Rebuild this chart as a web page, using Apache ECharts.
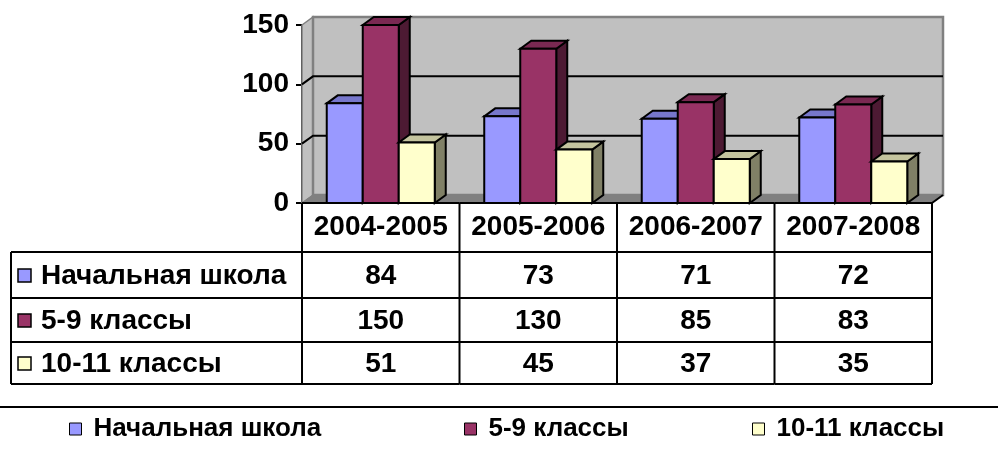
<!DOCTYPE html>
<html>
<head>
<meta charset="utf-8">
<script src="https://cdn.jsdelivr.net/npm/echarts@6/dist/echarts.min.js"></script>
<style>html,body{margin:0;padding:0;background:#fff}#c{width:998px;height:449px}</style>
</head>
<body>
<div id="c"></div>
<script>
const categories = ['2004-2005', '2005-2006', '2006-2007', '2007-2008'];
const seriesNames = ['Начальная школа', '5-9 классы', '10-11 классы'];
const primarySchool = [84, 73, 71, 72];
const grades5to9 = [150, 130, 85, 83];
const grades10to11 = [51, 45, 37, 35];
const yTicks = [0, 50, 100, 150];

const seriesValues = [primarySchool, grades5to9, grades10to11];
const palette = [
  { front: '#9999FF', top: '#7777CC', side: '#4C4C80' },
  { front: '#993366', top: '#7A2952', side: '#4D1A33' },
  { front: '#FFFFCC', top: '#C4C49E', side: '#808066' }
];
const DX = 11, DY = 8;
const FONT = '"Liberation Sans", Arial, sans-serif';

function barRender(si) {
  return function (params, api) {
    const cat = api.value(0), v = api.value(1);
    const base = api.coord([cat, 0]);
    const tp = api.coord([cat, v]);
    const band = api.size([1, 0])[0];
    const bw = band * 0.2286;
    const x0 = base[0] - 1.5 * bw + si * bw;
    const x1 = x0 + bw;
    const yb = base[1], yt = tp[1];
    const c = palette[si];
    const st = { stroke: '#000', lineWidth: 2, lineJoin: 'miter' };
    return {
      type: 'group',
      children: [
        { type: 'polygon', shape: { points: [[x1, yt], [x1 + DX, yt - DY], [x1 + DX, yb - DY], [x1, yb]] }, style: Object.assign({ fill: c.side }, st) },
        { type: 'polygon', shape: { points: [[x0, yt], [x0 + DX, yt - DY], [x1 + DX, yt - DY], [x1, yt]] }, style: Object.assign({ fill: c.top }, st) },
        { type: 'rect', shape: { x: x0, y: yt, width: bw, height: yb - yt }, style: Object.assign({ fill: c.front }, st) }
      ]
    };
  };
}

function wallRender(params, api) {
  const cs = params.coordSys;
  const L = cs.x, R = cs.x + cs.width;
  const y0 = api.coord([0, yTicks[0]])[1];
  const yMax = api.coord([0, yTicks[yTicks.length - 1]])[1];
  const ch = [];
  ch.push({ type: 'polygon', shape: { points: [[L, yMax], [L + DX, yMax - DY], [L + DX, y0 - DY], [L, y0]] }, style: { fill: '#C0C0C0', stroke: '#808080', lineWidth: 1.5 } });
  ch.push({ type: 'rect', shape: { x: L + DX, y: yMax - DY, width: R - L, height: y0 - yMax }, style: { fill: '#C0C0C0', stroke: '#808080', lineWidth: 2.5 } });
  ch.push({ type: 'polygon', shape: { points: [[L, y0], [L + DX, y0 - DY], [R + DX, y0 - DY], [R, y0]] }, style: { fill: '#808080', stroke: '#808080', lineWidth: 1 } });
  ch.push({ type: 'line', shape: { x1: R, y1: y0, x2: R + DX, y2: y0 - DY }, style: { stroke: '#000', lineWidth: 2 } });
  yTicks.forEach(function (t, i) {
    if (i === 0 || i === yTicks.length - 1) return;
    const y = api.coord([0, t])[1];
    ch.push({ type: 'polyline', shape: { points: [[L, y], [L + DX, y - DY], [R + DX, y - DY]] }, style: { stroke: '#000', lineWidth: 2, fill: null } });
  });
  return { type: 'group', children: ch };
}

const rowLines = [252, 298, 342, 384];
const headerMid = 227;
const TABLE_LEFT = 11;

function tableRender(params, api) {
  const idx = params.dataIndex;
  const base = api.coord([idx, 0]);
  const band = api.size([1, 0])[0];
  const cx = base[0], yTop = base[1];
  const left = cx - band / 2, right = cx + band / 2;
  const ls = { stroke: '#000', lineWidth: 2 };
  const txt = function (s, x, y, align) {
    return { type: 'text', style: { text: s, x: x, y: y, align: align || 'center', verticalAlign: 'middle', fontSize: 28, fontWeight: 'bold', fontFamily: FONT, fill: '#000' } };
  };
  const ch = [];
  ch.push({ type: 'line', shape: { x1: left, y1: yTop, x2: right, y2: yTop }, style: ls });
  ch.push({ type: 'line', shape: { x1: left, y1: yTop, x2: left, y2: rowLines[rowLines.length - 1] }, style: ls });
  if (idx === categories.length - 1) {
    ch.push({ type: 'line', shape: { x1: right, y1: yTop, x2: right, y2: rowLines[rowLines.length - 1] }, style: ls });
  }
  rowLines.forEach(function (y) {
    ch.push({ type: 'line', shape: { x1: left, y1: y, x2: right, y2: y }, style: ls });
  });
  ch.push(txt(categories[idx], cx, headerMid));
  seriesValues.forEach(function (arr, k) {
    ch.push(txt(String(arr[idx]), cx, (rowLines[k] + rowLines[k + 1]) / 2 + 1));
  });
  if (idx === 0) {
    rowLines.forEach(function (y) {
      ch.push({ type: 'line', shape: { x1: TABLE_LEFT, y1: y, x2: left, y2: y }, style: ls });
    });
    ch.push({ type: 'line', shape: { x1: TABLE_LEFT, y1: rowLines[0], x2: TABLE_LEFT, y2: rowLines[rowLines.length - 1] }, style: ls });
    seriesNames.forEach(function (n, k) {
      const my = (rowLines[k] + rowLines[k + 1]) / 2 + 1;
      ch.push({ type: 'rect', shape: { x: 18, y: my - 7, width: 13, height: 13 }, style: { fill: palette[k].front, stroke: '#000', lineWidth: 1.5 } });
      ch.push(txt(n, 41, my, 'left'));
    });
  }
  return { type: 'group', children: ch };
}

const chart = echarts.init(document.getElementById('c'), null, { renderer: 'canvas' });

const series = [
  {
    type: 'custom', name: '_walls', silent: true, z: 1,
    renderItem: wallRender, data: [[0, 0]], legendHoverLink: false
  }
].concat(seriesValues.map(function (arr, si) {
  return {
    type: 'custom', name: seriesNames[si], z: 2,
    itemStyle: { color: palette[si].front },
    encode: { x: 0, y: 1 },
    renderItem: barRender(si),
    data: arr.map(function (v, i) { return [i, v]; })
  };
})).concat([
  {
    type: 'custom', name: '_table', silent: true, z: 3,
    renderItem: tableRender,
    data: categories.map(function (c, i) { return [i, 0]; })
  }
]);

function legendAt(name, left) {
  return {
    data: [name], left: left, top: 416, padding: 0,
    itemWidth: 12, itemHeight: 12, icon: 'rect', selectedMode: false,
    itemStyle: { borderColor: '#000', borderWidth: 1 },
    textStyle: { fontSize: 26, fontWeight: 'bold', fontFamily: FONT, color: '#000', padding: [0, 0, 0, 7] }
  };
}

chart.setOption({
  animation: false,
  backgroundColor: '#fff',
  grid: { left: 302, right: 66, top: 25, bottom: 246, containLabel: false },
  xAxis: {
    type: 'category', data: categories,
    axisLine: { show: false }, axisTick: { show: false }, axisLabel: { show: false }, splitLine: { show: false }
  },
  yAxis: {
    type: 'value', min: 0, max: 150, interval: 50,
    axisLine: { show: true, lineStyle: { color: '#000', width: 2 } },
    axisTick: { show: true, length: 6, lineStyle: { color: '#000', width: 2 } },
    axisLabel: { fontSize: 28, fontWeight: 'bold', fontFamily: FONT, color: '#000', margin: 13 },
    splitLine: { show: false }
  },
  legend: [legendAt(seriesNames[0], 69), legendAt(seriesNames[1], 464), legendAt(seriesNames[2], 752)],
  graphic: [
    { type: 'line', shape: { x1: 0, y1: 407, x2: 998, y2: 407 }, style: { stroke: '#000', lineWidth: 2 } }
  ],
  series: series
});
</script>
</body>
</html>
